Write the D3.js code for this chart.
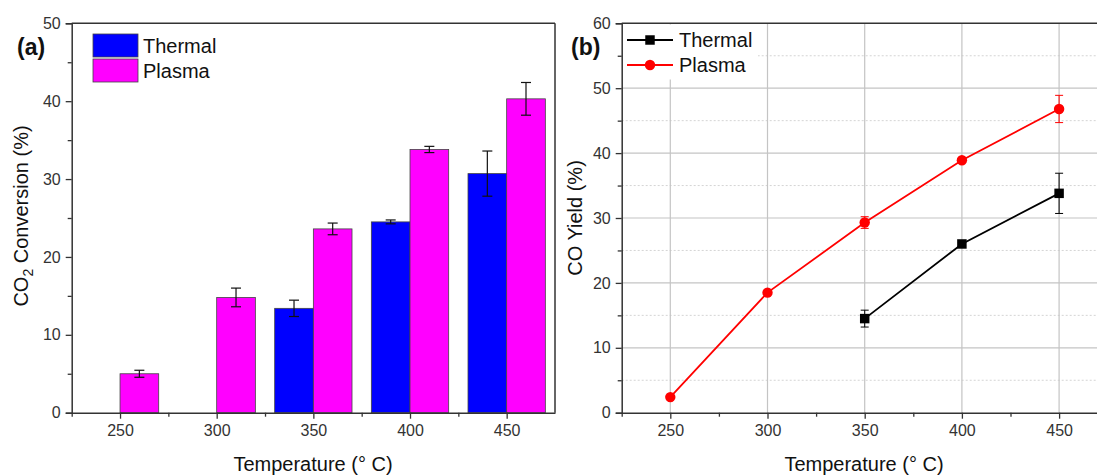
<!DOCTYPE html>
<html>
<head>
<meta charset="utf-8">
<script src="https://cdn.jsdelivr.net/npm/d3@7"></script>
<style>
  body { margin: 0; background: #fff; }
  text { font-family: "Liberation Sans", Arial, sans-serif; }
</style>
</head>
<body>
<div id="chart"></div>
<script>
// data
var temps = [250, 300, 350, 400, 450];
var convThermal = [null, null, 13.4, 24.5, 30.7];
var convThermalErr = [null, null, 1.05, 0.25, 2.9];
var convPlasma = [5.0, 14.8, 23.6, 33.8, 40.3];
var convPlasmaErr = [0.45, 1.2, 0.75, 0.4, 2.1];
var yieldThermal = [null, null, 14.5, 26.0, 33.8];
var yieldThermalErr = [null, null, 1.3, 0.2, 3.1];
var yieldPlasma = [2.4, 18.5, 29.3, 38.9, 46.8];
var yieldPlasmaErr = [0.2, 0.3, 0.9, 0.3, 2.1];
var xTicks = [250, 300, 350, 400, 450];
var convTicks = [0, 10, 20, 30, 40, 50];
var yieldTicks = [0, 10, 20, 30, 40, 50, 60];

var W = 1097, H = 475;
var svg = d3.select("#chart").append("svg")
    .attr("width", W).attr("height", H);

var axisColor = "#333";
var barW = 20; // in degrees C

// ---------- panel (a) ----------
var xa = d3.scaleLinear().domain([225, 475]).range([71.7, 555]);
var ya = d3.scaleLinear().domain([0, 50]).range([412.7, 23.3]);

var ga = svg.append("g");

// bars
var barData = [];
temps.forEach(function(t, i) {
    if (convThermal[i] != null) barData.push({t: t, x0: t - barW, v: convThermal[i], e: convThermalErr[i], c: "#0000ff"});
    barData.push({t: t, x0: t, v: convPlasma[i], e: convPlasmaErr[i], c: "#ff00ff"});
});

ga.selectAll("rect.bar")
    .data(barData)
    .enter()
    .append("rect")
    .attr("class", "bar")
    .attr("x", function(d) { return xa(d.x0); })
    .attr("width", function(d) { return xa(d.x0 + barW) - xa(d.x0); })
    .attr("y", function(d) { return ya(d.v); })
    .attr("height", function(d) { return ya(0) - ya(d.v); })
    .attr("fill", function(d) { return d.c; })
    .attr("stroke", "#444")
    .attr("stroke-width", 0.8);

// error bars
var errA = ga.selectAll("g.err")
    .data(barData)
    .enter()
    .append("g")
    .attr("stroke", "#111")
    .attr("stroke-width", 1.2);
errA.append("line")
    .attr("x1", function(d) { return xa(d.x0 + barW / 2); })
    .attr("x2", function(d) { return xa(d.x0 + barW / 2); })
    .attr("y1", function(d) { return ya(d.v - d.e); })
    .attr("y2", function(d) { return ya(d.v + d.e); });
[-1, 1].forEach(function(s) {
    errA.append("line")
        .attr("x1", function(d) { return xa(d.x0 + barW / 2) - 5; })
        .attr("x2", function(d) { return xa(d.x0 + barW / 2) + 5; })
        .attr("y1", function(d) { return ya(d.v + s * d.e); })
        .attr("y2", function(d) { return ya(d.v + s * d.e); });
});

// frame + axes
function drawAxes(g, x, y, yTicks, yMinorStep, boxRight) {
    var x0 = x.range()[0], x1 = x.range()[1], y0 = y.range()[0], y1 = y.range()[1];
    // top and right
    g.append("line").attr("x1", x0).attr("x2", x1).attr("y1", y1).attr("y2", y1)
        .attr("stroke", axisColor).attr("stroke-width", 1.5);
    if (boxRight) {
        g.append("line").attr("x1", x1).attr("x2", x1).attr("y1", y1).attr("y2", y0)
            .attr("stroke", axisColor).attr("stroke-width", 1.5);
    }
    var minorY = d3.range(yMinorStep, y.domain()[1], yMinorStep * 2);
    g.append("g").attr("transform", "translate(" + x0 + ",0)")
        .call(d3.axisLeft(y).tickValues(yTicks).tickSize(6).tickPadding(5));
    g.append("g").attr("transform", "translate(" + x0 + ",0)")
        .call(d3.axisLeft(y).tickValues(minorY).tickSize(4).tickFormat(""))
        .select(".domain").remove();
    var minorX = d3.range(275, 475, 50).concat([225]);
    g.append("g").attr("transform", "translate(0," + y0 + ")")
        .call(d3.axisBottom(x).tickValues(xTicks).tickSize(6).tickPadding(6).tickSizeOuter(0));
    g.append("g").attr("transform", "translate(0," + y0 + ")")
        .call(d3.axisBottom(x).tickValues(minorX).tickSize(4).tickFormat(""))
        .select(".domain").remove();
    g.selectAll(".domain").attr("stroke", axisColor).attr("stroke-width", 1.5);
    g.selectAll(".tick line").attr("stroke", axisColor).attr("stroke-width", 1.3);
    g.selectAll(".tick text").attr("fill", "#333")
        .style("font-family", "Liberation Sans, Arial, sans-serif").style("font-size", "16px");
}
drawAxes(ga, xa, ya, convTicks, 5, true);

// legend (a)
var legA = [{name: "Thermal", c: "#0000ff"}, {name: "Plasma", c: "#ff00ff"}];
var la = ga.selectAll("g.leg").data(legA).enter().append("g")
    .attr("transform", function(d, i) { return "translate(93," + (34 + i * 25) + ")"; });
la.append("rect").attr("width", 45).attr("height", 23)
    .attr("fill", function(d) { return d.c; }).attr("stroke", "#444").attr("stroke-width", 0.8);
la.append("text").attr("x", 50).attr("y", 19).text(function(d) { return d.name; })
    .style("font-size", "20px").attr("fill", "#111");

ga.append("text").attr("x", 17).attr("y", 55).text("(a)")
    .style("font-size", "23px").style("font-weight", "bold").attr("fill", "#111");

ga.append("text").attr("x", 313).attr("y", 471).attr("text-anchor", "middle")
    .style("font-size", "20px").attr("fill", "#111").text("Temperature (\u00b0 C)");
var ta = ga.append("text").attr("transform", "translate(28,216) rotate(-90)")
    .attr("text-anchor", "middle").style("font-size", "20px").attr("fill", "#111");
ta.append("tspan").text("CO");
ta.append("tspan").text("2").attr("dy", 5).style("font-size", "14px");
ta.append("tspan").text(" Conversion (%)").attr("dy", -5);

// ---------- panel (b) ----------
var xb = d3.scaleLinear().domain([225, 475]).range([621.7, 1107.7]);
var yb = d3.scaleLinear().domain([0, 60]).range([412.7, 23.3]);
var gb = svg.append("g");

// grid
gb.selectAll("line.minor").data(d3.range(5, 60, 10)).enter().append("line")
    .attr("x1", xb(225)).attr("x2", xb(475))
    .attr("y1", function(d) { return yb(d); }).attr("y2", function(d) { return yb(d); })
    .attr("stroke", "#d4d4d4").attr("stroke-width", 1).attr("stroke-dasharray", "2,2");
gb.selectAll("line.hmaj").data([10, 20, 30, 40, 50]).enter().append("line")
    .attr("x1", xb(225)).attr("x2", xb(475))
    .attr("y1", function(d) { return yb(d); }).attr("y2", function(d) { return yb(d); })
    .attr("stroke", "#c4c4c4").attr("stroke-width", 1.2);
gb.selectAll("line.vmaj").data(xTicks).enter().append("line")
    .attr("x1", function(d) { return xb(d); }).attr("x2", function(d) { return xb(d); })
    .attr("y1", yb(0)).attr("y2", yb(60))
    .attr("stroke", "#c4c4c4").attr("stroke-width", 1.2);

// series
var series = [
    {name: "Thermal", v: yieldThermal, e: yieldThermalErr, c: "#000000", m: "square"},
    {name: "Plasma", v: yieldPlasma, e: yieldPlasmaErr, c: "#ff0000", m: "circle"}
];
var line = d3.line()
    .defined(function(d) { return d.v != null; })
    .x(function(d) { return xb(d.t); })
    .y(function(d) { return yb(d.v); });

series.forEach(function(s) {
    var pts = temps.map(function(t, i) { return {t: t, v: s.v[i], e: s.e[i]}; })
        .filter(function(d) { return d.v != null; });
    gb.append("path").datum(pts).attr("d", line)
        .attr("fill", "none").attr("stroke", s.c).attr("stroke-width", 1.8);
    var eg = gb.selectAll(null).data(pts).enter().append("g")
        .attr("stroke", s.c).attr("stroke-width", 1);
    eg.append("line")
        .attr("x1", function(d) { return xb(d.t); }).attr("x2", function(d) { return xb(d.t); })
        .attr("y1", function(d) { return yb(d.v - d.e); }).attr("y2", function(d) { return yb(d.v + d.e); });
    [-1, 1].forEach(function(k) {
        eg.append("line")
            .attr("x1", function(d) { return xb(d.t) - 4; }).attr("x2", function(d) { return xb(d.t) + 4; })
            .attr("y1", function(d) { return yb(d.v + k * d.e); }).attr("y2", function(d) { return yb(d.v + k * d.e); });
    });
    var sym = d3.symbol().type(s.m == "square" ? d3.symbolSquare : d3.symbolCircle)
        .size(s.m == "square" ? 90 : 85);
    gb.selectAll(null).data(pts).enter().append("path")
        .attr("d", sym)
        .attr("transform", function(d) { return "translate(" + xb(d.t) + "," + yb(d.v) + ")"; })
        .attr("fill", s.c);
});

// legend (b) with white background
gb.append("rect").attr("x", 623).attr("y", 24.5).attr("width", 135).attr("height", 55).attr("fill", "#fff");
var lb = gb.selectAll("g.legb").data(series).enter().append("g")
    .attr("transform", function(d, i) { return "translate(627," + (40 + i * 25) + ")"; });
lb.append("line").attr("x1", 0).attr("x2", 46)
    .attr("stroke", function(d) { return d.c; }).attr("stroke-width", 1.8);
lb.append("path")
    .attr("d", function(d) {
        return d3.symbol().type(d.m == "square" ? d3.symbolSquare : d3.symbolCircle)
            .size(d.m == "square" ? 90 : 85)();
    })
    .attr("transform", "translate(23,0)")
    .attr("fill", function(d) { return d.c; });
lb.append("text").attr("x", 52).attr("y", 7).text(function(d) { return d.name; })
    .style("font-size", "20px").attr("fill", "#111");

drawAxes(gb, xb, yb, yieldTicks, 5, false);

gb.append("text").attr("x", 571).attr("y", 55).text("(b)")
    .style("font-size", "23px").style("font-weight", "bold").attr("fill", "#111");
gb.append("text").attr("x", 864).attr("y", 471).attr("text-anchor", "middle")
    .style("font-size", "20px").attr("fill", "#111").text("Temperature (\u00b0 C)");
gb.append("text").attr("transform", "translate(582,218) rotate(-90)")
    .attr("text-anchor", "middle").style("font-size", "20px").attr("fill", "#111")
    .text("CO Yield (%)");
</script>
</body>
</html>
